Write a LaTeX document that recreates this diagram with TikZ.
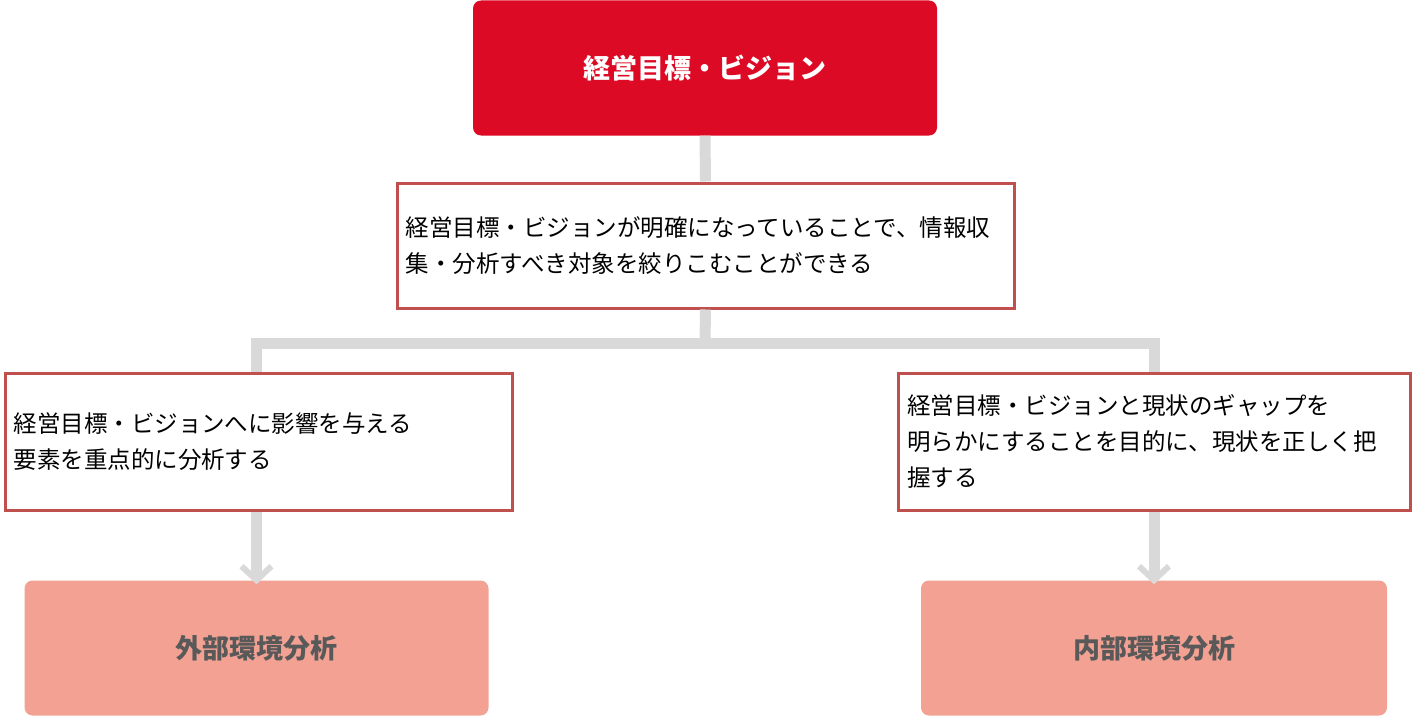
\documentclass[tikz,border=0pt]{standalone}
\usepackage{fontspec}
\setmainfont{Noto Sans CJK JP}
\usetikzlibrary{positioning,arrows.meta}
\definecolor{goalRed}{RGB}{220,10,36}
\definecolor{frameRed}{RGB}{192,80,77}
\definecolor{linkGray}{RGB}{217,217,217}
\definecolor{salmon}{RGB}{242,161,147}
\definecolor{darkText}{RGB}{89,89,89}
\tikzset{
  goalbox/.style={fill=goalRed,rounded corners=8pt,minimum width=464pt,minimum height=135pt,
    text=white,font=\fontsize{27}{32}\selectfont\bfseries,inner sep=0pt},
  notebox/.style={draw=frameRed,line width=3pt,fill=white,inner sep=0pt,
    font=\fontsize{23.5}{36}\selectfont,align=left},
  areabox/.style={fill=salmon,rounded corners=8pt,minimum width=464pt,minimum height=135pt,
    text=darkText,font=\fontsize{27}{32}\selectfont\bfseries,inner sep=0pt},
  link/.style={draw=linkGray,line width=11pt},
  linkarrow/.style={link,-{Straight Barb[length=14pt,width=30pt,line width=6pt]}}
}
\begin{document}
\begin{tikzpicture}[x=1pt,y=-1pt]
\path[use as bounding box] (0,0) rectangle (1414,717);

% boxes
\node[goalbox] (goal) at (705,68) {経営目標・ビジョン};
\node[notebox,minimum width=617pt,minimum height=125pt,text width=600pt] (focus) at (705.5,245.5)
  {経営目標・ビジョンが明確になっていることで、情報収\\集・分析すべき対象を絞りこむことができる};
\node[notebox,minimum width=507pt,minimum height=137pt,text width=490pt] (outer) at (258.5,441.5)
  {経営目標・ビジョンへに影響を与える\\要素を重点的に分析する};
\node[notebox,minimum width=512pt,minimum height=137pt,text width=494pt] (inner) at (1154,441.5)
  {経営目標・ビジョンと現状のギャップを\\明らかにすることを目的に、現状を正しく把\\握する};
\node[areabox] (extana) at (256.5,648) {外部環境分析};
\node[areabox,minimum width=466pt] (intana) at (1154,648) {内部環境分析};

% connectors
\coordinate (split) at (705,343);
\begin{scope}[on background layer/.try]
\draw[link] (goal.south) -- (focus.north);
\draw[link] (focus.south) -- (split);
\draw[link] (split) -| (outer.north -| extana.north);
\draw[link] (split) -| (inner.north -| intana.north);
\end{scope}
\draw[linkarrow] (outer.south -| extana.north) -- ([yshift=-4pt]extana.north);
\draw[linkarrow] (inner.south -| intana.north) -- ([yshift=-4pt]intana.north);
\node[notebox,minimum width=507pt,minimum height=137pt,text width=490pt] at (outer) {経営目標・ビジョンへに影響を与える\\要素を重点的に分析する};
\node[notebox,minimum width=512pt,minimum height=137pt,text width=494pt] at (inner) {経営目標・ビジョンと現状のギャップを\\明らかにすることを目的に、現状を正しく把\\握する};
\end{tikzpicture}
\end{document}
